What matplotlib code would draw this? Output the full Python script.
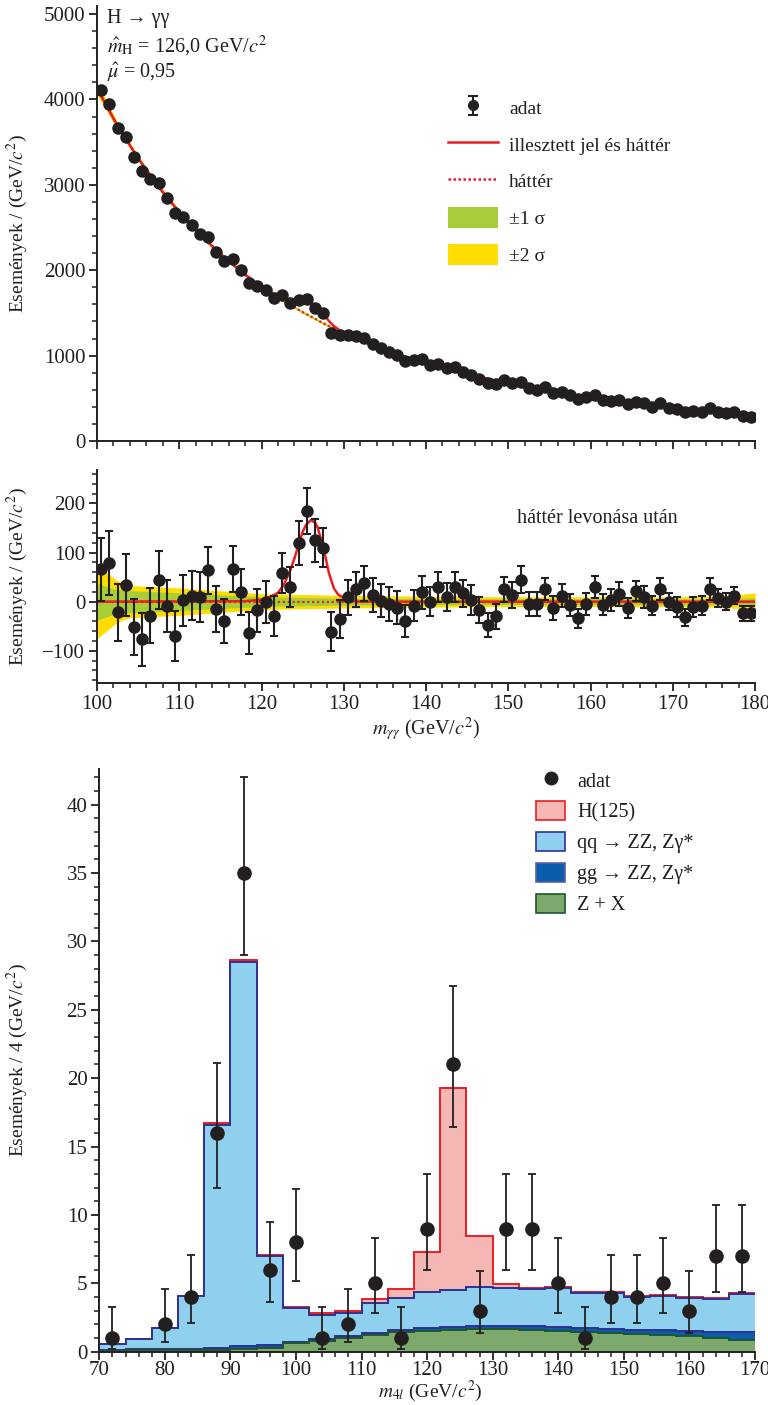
import numpy as np
import matplotlib
matplotlib.use("Agg")
import matplotlib.pyplot as plt
from matplotlib.lines import Line2D
from matplotlib.patches import Patch
from matplotlib.ticker import MultipleLocator

plt.rcParams["font.family"] = ["Liberation Serif", "DejaVu Serif"]
plt.rcParams["mathtext.fontset"] = "stix"

# ---------------- H -> gamma gamma (1 GeV bins) ----------------
mgg = np.arange(100.5, 180, 1.0)
events = [4110, 3943, 3669, 3564, 3329, 3165, 3068, 3018, 2842, 2666,
          2627, 2529, 2428, 2393, 2217, 2108, 2131, 2006, 1847, 1819,
          1768, 1675, 1710, 1613, 1651, 1666, 1554, 1495, 1268, 1241,
          1241, 1230, 1203, 1132, 1085, 1046, 1007, 937, 949, 957,
          890, 902, 851, 863, 812, 773, 726, 676, 668, 714,
          676, 695, 624, 597, 629, 558, 577, 539, 488, 512,
          539, 480, 472, 480, 433, 460, 441, 402, 441, 390,
          371, 336, 355, 343, 383, 340, 332, 340, 293, 285]

resid = [66, 78, -22, 33, -51, -77, -29, 45, -8, -70,
         3, 12, 9, 64, -15, -39, 66, 19, -64, -18,
         -1, -29, 58, 30, 119, 185, 125, 110, -61, -35,
         9, 25, 37, 14, 2, -5, -12, -39, -8, 19,
         0, 30, 9, 30, 17, 3, -17, -47, -30, 25,
         14, 45, -5, -5, 26, -13, 12, -7, -34, -5,
         30, -6, 3, 16, -13, 22, 9, -8, 26, 0,
         -11, -32, -11, -8, 26, 7, 0, 12, -24, -24]
resid_err = [64, 65, 58, 63, 57, 53, 56, 59, 53, 51,
             52, 50, 51, 48, 47, 45, 47, 47, 43, 44,
             43, 41, 41, 41, 45, 47, 44, 40, 39, 39,
             36, 36, 35, 35, 34, 34, 33, 33, 31, 33,
             29, 30, 29, 30, 28, 30, 27, 24, 25, 26,
             26, 27, 25, 25, 23, 25, 23, 23, 20, 22,
             22, 21, 23, 24, 21, 21, 22, 19, 23, 18,
             20, 18, 20, 19, 22, 18, 17, 17, 16, 15]

# background fit
bkg_m = [100, 102.5, 105, 107.5, 110, 112.5, 115, 117.5, 120, 122.5, 125,
         127.5, 130, 132.5, 135, 137.5, 140, 145, 150, 155, 160, 165, 170, 175, 180]
bkg_y = [4130, 3690, 3310, 2975, 2680, 2420, 2190, 1985, 1803, 1650, 1510,
         1380, 1262, 1157, 1065, 985, 915, 785, 675, 582, 507, 445, 390, 344, 303]

# signal component of the fit
sig_m = [100, 118, 120, 121, 122, 122.7, 123.5, 124, 124.55, 125, 125.4, 126,
         126.5, 126.8, 127.5, 128.2, 128.8, 129.3, 130, 131, 132, 180]
sig_y = [0, 1, 4, 9, 18, 34, 64, 88, 118, 142, 156, 166,
         161, 152, 112, 58, 27, 15, 7, 2, 0, 0]

# uncertainty bands on background (half widths)
band_m = [100, 101, 102, 103, 104, 106, 110, 115, 120, 130, 140, 150, 160, 170, 175, 178, 180]
band2 = [75, 62, 48, 38, 33, 31, 28, 22, 16, 13, 11, 10, 10, 10, 11, 14, 18]
band1 = [38, 32, 26, 24, 22, 21, 18, 14, 10, 7, 6, 6, 6, 6, 6, 7, 8]

# ---------------- H -> ZZ -> 4l (4 GeV bins) ----------------
edges = np.arange(70, 171, 4)
zx = [0.08, 0.10, 0.12, 0.14, 0.15, 0.20, 0.30, 0.60, 0.80, 1.00, 1.22, 1.41, 1.51,
      1.59, 1.63, 1.63, 1.58, 1.51, 1.41, 1.34, 1.27, 1.20, 1.15, 0.98, 0.88]
gg = [0.04, 0.07, 0.08, 0.08, 0.15, 0.21, 0.20, 0.13, 0.15, 0.17, 0.17, 0.17, 0.25,
      0.24, 0.25, 0.25, 0.27, 0.29, 0.32, 0.32, 0.32, 0.35, 0.36, 0.49, 0.56]
qq = [0.44, 0.78, 1.50, 3.83, 16.25, 28.09, 6.50, 2.49, 1.73, 1.68, 2.15, 2.35, 2.58,
      2.68, 2.82, 2.80, 2.75, 2.86, 2.56, 2.63, 2.39, 2.52, 2.39, 2.36, 2.76]
h125 = [0, 0, 0.02, 0.02, 0.15, 0.10, 0.05, 0.07, 0.12, 0.15, 0.29, 0.67, 2.96,
        14.79, 3.76, 0.25, 0.08, 0.07, 0.08, 0.08, 0.09, 0.08, 0.08, 0.10, 0.07]

m4l = [72, 80, 84, 88, 92, 96, 100, 104, 108, 112, 116, 120,
       124, 128, 132, 136, 140, 144, 148, 152, 156, 160, 164, 168]
n4l = [1, 2, 4, 16, 35, 6, 8, 1, 2, 5, 1, 9,
       21, 3, 9, 9, 5, 1, 4, 4, 5, 3, 7, 7]
n4l_lo = [0.83, 1.3, 1.9, 4.0, 6.0, 2.4, 2.8, 0.83, 1.3, 2.2, 0.83, 3.0,
          4.6, 1.65, 3.0, 3.0, 2.2, 0.83, 1.9, 1.9, 2.2, 1.65, 2.6, 2.6]
n4l_hi = [2.3, 2.6, 3.1, 5.1, 7.0, 3.5, 3.9, 2.3, 2.6, 3.3, 2.3, 4.0,
          5.7, 2.9, 4.0, 4.0, 3.3, 2.3, 3.1, 3.1, 3.3, 2.9, 3.7, 3.7]

# colours
ink = "#231F20"
red = "#ED1C24"
yellow = "#FFDD00"
green = "#A6CE39"
pink = "#F5B7B4"
light_blue = "#8FD0EE"
navy = "#2E3192"
dark_blue = "#0B5CAB"
zx_green = "#7EA96C"
zx_edge = "#1E5631"

W, H = 768, 1405
fig = plt.figure(figsize=(W / 100, H / 100), dpi=100)


def px_axes(left, top, right, bottom):
    return fig.add_axes([left / W, 1 - bottom / H, (right - left) / W, (bottom - top) / H])


def style_axes(ax, xmin, xmaj, ymin, ymaj):
    for s in ["top", "right"]:
        ax.spines[s].set_visible(False)
    for s in ["left", "bottom"]:
        ax.spines[s].set_linewidth(1.4)
        ax.spines[s].set_color(ink)
    ax.xaxis.set_major_locator(MultipleLocator(xmaj))
    ax.xaxis.set_minor_locator(MultipleLocator(xmin))
    ax.yaxis.set_major_locator(MultipleLocator(ymaj))
    ax.yaxis.set_minor_locator(MultipleLocator(ymin))
    ax.tick_params(which="major", direction="out", length=6, width=1.3, color=ink,
                   labelsize=15, labelcolor=ink, pad=2.5)
    ax.tick_params(which="minor", direction="out", length=3.5, width=1.1, color=ink)


# common fine grid for the fit curves
grid = np.union1d(np.union1d(bkg_m, sig_m), band_m)
bkg_g = np.interp(grid, bkg_m, bkg_y)
sig_g = np.interp(grid, sig_m, sig_y)
b2_g = np.interp(grid, band_m, band2)
b1_g = np.interp(grid, band_m, band1)

# ---------- top panel ----------
ax1 = px_axes(97, 5.5, 755, 441)
ax1.fill_between(grid, bkg_g - b2_g, bkg_g + b2_g, color=yellow, lw=0)
ax1.fill_between(grid, bkg_g - b1_g, bkg_g + b1_g, color=green, lw=0)
ax1.plot(grid, bkg_g, color=red, lw=1.6, ls=(0, (1, 1.2)))
ax1.plot(grid, bkg_g + sig_g, color=red, lw=1.8)
ax1.plot(mgg, events, "o", color=ink, ms=8, zorder=5)
ax1.set_xlim(100, 180)
ax1.set_ylim(0, 5100)
style_axes(ax1, 2, 10, 200, 1000)
ax1.tick_params(axis="x", labelbottom=False)
ax1.set_ylabel("Események / (GeV/$c^2$)", fontsize=14, color=ink)
ax1.yaxis.set_label_coords(-0.102, 0.5)

leg_data = ax1.errorbar([np.nan], [np.nan], yerr=[1], fmt="o", color=ink, ms=7,
                        elinewidth=1.5, capsize=3.5, capthick=1.5)
handles1 = [leg_data,
            Line2D([], [], color=red, lw=1.8),
            Line2D([], [], color=red, lw=1.8, ls=(0, (1, 1))),
            Patch(facecolor=green, edgecolor="none"),
            Patch(facecolor=yellow, edgecolor="none")]
labels1 = ["adat", "illesztett jel és háttér", "háttér", "±1 σ", "±2 σ"]
fig.legend(handles1, labels1, loc="upper left", bbox_to_anchor=(448 / W, 1 - 97 / H),
           frameon=False, fontsize=14, handlelength=2.55, handleheight=1.25,
           labelspacing=0.82, handletextpad=0.6, borderpad=0, borderaxespad=0,
           labelcolor=ink)

fig.text(107 / W, 1 - 19 / H, "H → γγ", fontsize=14.5, color=ink, va="center")
fig.text(107 / W, 1 - 46 / H, r"$\hat{m}_{\mathrm{H}}$ = 126,0 GeV/$c^2$", fontsize=14.5,
         color=ink, va="center")
fig.text(107 / W, 1 - 72 / H, r"$\hat{\mu}$ = 0,95", fontsize=14.5, color=ink, va="center")

# ---------- middle panel ----------
ax2 = px_axes(97, 470, 755, 682.7)
ax2.fill_between(grid, -b2_g, b2_g, color=yellow, lw=0)
ax2.fill_between(grid, -b1_g, b1_g, color=green, lw=0)
ax2.plot([100, 180], [0, 0], color=red, lw=1.6, ls=(0, (1, 1.2)))
ax2.plot(grid, sig_g, color=red, lw=1.8)
ax2.errorbar(mgg, resid, yerr=resid_err, fmt="o", color=ink, ms=8, elinewidth=1.5,
             capsize=3, capthick=1.5, zorder=5)
ax2.set_xlim(100, 180)
ax2.set_ylim(-165, 268)
style_axes(ax2, 2, 10, 20, 100)
ax2.set_ylabel("Események / (GeV/$c^2$)", fontsize=14, color=ink)
ax2.yaxis.set_label_coords(-0.102, 0.5)
ax2.set_xlabel(r"$m_{\gamma\gamma}$ (GeV/$c^2$)", fontsize=14.5, color=ink, labelpad=1)
ax2.text(0.76, 0.77, "háttér levonása után", transform=ax2.transAxes, fontsize=14.5,
         color=ink, ha="center", va="center")

# ---------- bottom panel ----------
ax3 = px_axes(99.3, 769, 755, 1351.7)
c_zx = np.array(zx)
c_gg = c_zx + np.array(gg)
c_qq = c_gg + np.array(qq)
c_tot = c_qq + np.array(h125)
layers = [(c_tot, pink, red), (c_qq, light_blue, navy),
          (c_gg, dark_blue, navy), (c_zx, zx_green, zx_edge)]
for vals, fc, ec in layers:
    ax3.stairs(vals, edges, baseline=0, fill=True, facecolor=fc, edgecolor="none", lw=0)
    ax3.stairs(vals, edges, baseline=None, color=ec, lw=1.4)
ax3.errorbar(m4l, n4l, yerr=[n4l_lo, n4l_hi], fmt="o", color=ink, ms=9.5,
             elinewidth=1.3, capsize=3, capthick=1.3, zorder=5)
ax3.set_xlim(70, 170)
ax3.set_ylim(0, 42.6)
style_axes(ax3, 2, 10, 1, 5)
ax3.tick_params(axis="x", which="major", pad=0.5)
ax3.set_ylabel("Események / 4 (GeV/$c^2$)", fontsize=14, color=ink)
ax3.yaxis.set_label_coords(-0.105, 0.5)
ax3.set_xlabel(r"$m_{4l}$ (GeV/$c^2$)", fontsize=14, color=ink)
ax3.xaxis.set_label_coords(0.505, -0.047)

handles3 = [Line2D([], [], ls="none", marker="o", color=ink, ms=9),
            Patch(facecolor=pink, edgecolor=red, lw=1.2),
            Patch(facecolor=light_blue, edgecolor=navy, lw=1.2),
            Patch(facecolor=dark_blue, edgecolor="#5A5FA8", lw=1.2),
            Patch(facecolor=zx_green, edgecolor=zx_edge, lw=1.2)]
labels3 = ["adat", "H(125)", "qq → ZZ, Zγ*", "gg → ZZ, Zγ*", "Z + X"]
fig.legend(handles3, labels3, loc="upper left", bbox_to_anchor=(536 / W, 1 - 770 / H),
           frameon=False, fontsize=14.5, handlelength=1.45, handleheight=1.1,
           labelspacing=0.47, handletextpad=0.6, borderpad=0, borderaxespad=0,
           labelcolor=ink)

fig.savefig("out.png", dpi=100)
